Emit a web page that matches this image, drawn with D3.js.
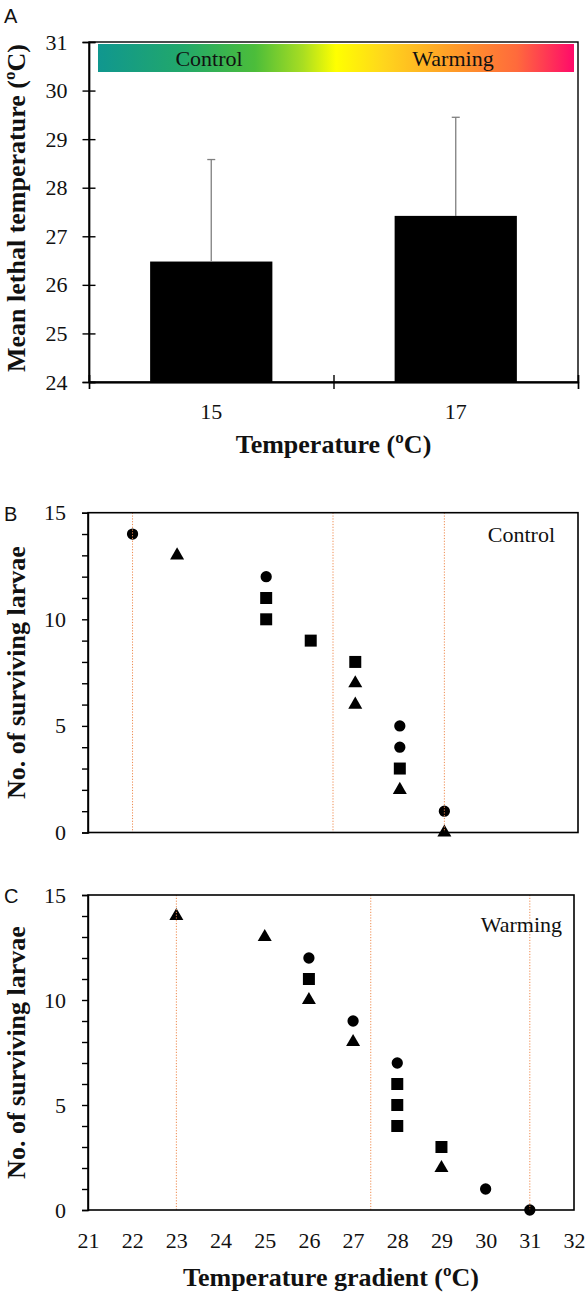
<!DOCTYPE html>
<html><head><meta charset="utf-8">
<script src="https://cdn.jsdelivr.net/npm/d3@7"></script>
<style>
body{margin:0;background:#fff;}
svg{display:block;}
text{font-family:"Liberation Serif","Times New Roman",serif;fill:#111;}
</style></head>
<body>
<svg id="chart" width="588" height="1297"></svg>
<script>
// ---------- data ----------
const categories = ["15", "17"];
const meanLethal = [26.48, 27.42];
const errorTop = [28.58, 29.45];
const yTicksA = [24, 25, 26, 27, 28, 29, 30, 31];

const xTicks = [21, 22, 23, 24, 25, 26, 27, 28, 29, 30, 31, 32];
const yTicksBC = [0, 1, 2, 3, 4, 5, 6, 7, 8, 9, 10, 11, 12, 13, 14, 15];

const controlCircles = [[22, 14], [25, 12], [28, 5], [28, 4], [29, 1]];
const controlSquares = [[25, 11], [25, 10], [26, 9], [27, 8], [28, 3]];
const controlTriangles = [[23, 13], [27, 7], [27, 6], [28, 2], [29, 0]];
const controlLines = [22, 26.5, 29];

const warmingCircles = [[26, 12], [27, 9], [28, 7], [30, 1], [31, 0]];
const warmingSquares = [[26, 11], [28, 6], [28, 5], [28, 4], [29, 3]];
const warmingTriangles = [[23, 14], [25, 13], [26, 10], [27, 8], [29, 2]];
const warmingLines = [23, 27.4, 31];

const gradientStops = [
  [0, "#10978f"], [0.18, "#22a86a"], [0.33, "#4cbd3a"], [0.43, "#a8dd22"],
  [0.5, "#ffff00"], [0.6, "#ffd61c"], [0.75, "#ff9a28"], [0.88, "#ff6a3c"], [1, "#ff0a6a"]
];

const svg = d3.select("#chart");

// ---------- Panel A ----------
const A = {l: 89, r: 578, t: 42, b: 382};
const yA = d3.scaleLinear().domain([24, 31]).range([A.b, A.t]);
const xA = d3.scaleBand().domain(categories).range([A.l, A.r]).paddingInner(0.5).paddingOuter(0.25);
const xAb = d3.scaleLinear().domain([0, 2]).range([A.l, A.r]);

svg.append("text").attr("x", 4).attr("y", 23)
  .style("font-family", "Liberation Sans, Arial, sans-serif").attr("font-size", 20).text("A");

// gradient
const defs = svg.append("defs");
const grad = defs.append("linearGradient").attr("id", "grad").attr("x1", "0").attr("x2", "1").attr("y1", "0").attr("y2", "0");
grad.selectAll("stop").data(gradientStops).join("stop")
  .attr("offset", d => d[0]).attr("stop-color", d => d[1]);

// bars
svg.append("g").selectAll("rect").data(categories).join("rect")
  .attr("x", d => xA(d)).attr("width", xA.bandwidth())
  .attr("y", (d, i) => yA(meanLethal[i])).attr("height", (d, i) => yA(24) - yA(meanLethal[i]))
  .attr("fill", "#000");

// error bars
const eb = svg.append("g").attr("stroke", "#7f7f7f").attr("stroke-width", 1.3);
categories.forEach((c, i) => {
  const cx = xA(c) + xA.bandwidth() / 2;
  eb.append("line").attr("x1", cx).attr("x2", cx).attr("y1", yA(meanLethal[i])).attr("y2", yA(errorTop[i]));
  eb.append("line").attr("x1", cx - 4).attr("x2", cx + 4).attr("y1", yA(errorTop[i])).attr("y2", yA(errorTop[i]));
});

// gradient strip
svg.append("rect").attr("x", 98).attr("y", 44).attr("width", 476).attr("height", 28).attr("fill", "url(#grad)");
svg.append("text").attr("x", 209).attr("y", 66).attr("text-anchor", "middle").attr("font-size", 22).text("Control");
svg.append("text").attr("x", 453).attr("y", 66).attr("text-anchor", "middle").attr("font-size", 22).text("Warming");

// frame
svg.append("rect").attr("x", A.l).attr("y", A.t).attr("width", A.r - A.l).attr("height", A.b - A.t)
  .attr("fill", "none").attr("stroke", "#000").attr("stroke-width", 1.4);

// y axis A
svg.append("g").attr("transform", `translate(${A.l},0)`)
  .call(d3.axisLeft(yA).tickValues(yTicksA).tickSize(6.5).tickPadding(15).tickFormat(d3.format("d")));
svg.append("g").attr("transform", `translate(${A.l},0)`)
  .call(d3.axisRight(yA).tickValues(yTicksA).tickSize(6.5).tickFormat(""));
// x axis A
svg.append("g").attr("transform", `translate(0,${A.b})`)
  .call(d3.axisBottom(xAb).tickValues([0, 1, 2]).tickSize(7).tickFormat(""));
svg.append("g").attr("transform", `translate(0,${A.b})`)
  .call(d3.axisTop(xAb).tickValues([0, 1, 2]).tickSize(7).tickFormat(""));
svg.append("g").attr("transform", `translate(0,${A.b})`)
  .call(d3.axisBottom(xA).tickSize(0).tickPadding(21));

svg.append("text").attr("transform", `translate(25,${(A.t + A.b) / 2 - 4}) rotate(-90)`)
  .attr("text-anchor", "middle").attr("font-size", 26).attr("font-weight", "bold")
  .text("Mean lethal temperature (ºC)");
svg.append("text").attr("x", (A.l + A.r) / 2).attr("y", 453).attr("text-anchor", "middle")
  .attr("font-size", 26).attr("font-weight", "bold").text("Temperature (ºC)");

// ---------- Panels B & C ----------
function scatterPanel(cfg) {
  const x = d3.scaleLinear().domain([21, 32]).range([cfg.l, cfg.r]);
  const y = d3.scaleLinear().domain([0, 15]).range([cfg.b, cfg.t]);
  svg.append("text").attr("x", 4).attr("y", cfg.t + 8)
    .style("font-family", "Liberation Sans, Arial, sans-serif").attr("font-size", 20).text(cfg.label);

  const sym = (type, size) => d3.symbol().type(type).size(size)();
  const g = svg.append("g");
  g.selectAll("path.c").data(cfg.circles).join("path").attr("class", "c")
    .attr("d", sym(d3.symbolCircle, 100)).attr("transform", d => `translate(${x(d[0])},${y(d[1])})`).attr("fill", "#000");
  g.selectAll("path.s").data(cfg.squares).join("path").attr("class", "s")
    .attr("d", sym(d3.symbolSquare, 144)).attr("transform", d => `translate(${x(d[0])},${y(d[1])})`).attr("fill", "#000");
  g.selectAll("path.t").data(cfg.triangles).join("path").attr("class", "t")
    .attr("d", sym(d3.symbolTriangle, 85)).attr("transform", d => `translate(${x(d[0])},${y(d[1])})`).attr("fill", "#000");

  svg.append("g").selectAll("line").data(cfg.lines).join("line")
    .attr("x1", d => x(d)).attr("x2", d => x(d)).attr("y1", cfg.t).attr("y2", cfg.b)
    .attr("stroke", "#ee8a4e").attr("stroke-width", 1).attr("stroke-dasharray", "1.2,1.6");

  svg.append("text").attr("x", cfg.textX).attr("y", cfg.textY).attr("text-anchor", "end")
    .attr("font-size", 22).text(cfg.text);

  svg.append("rect").attr("x", cfg.l).attr("y", cfg.t).attr("width", cfg.r - cfg.l).attr("height", cfg.b - cfg.t)
    .attr("fill", "none").attr("stroke", "#000").attr("stroke-width", 1.6);

  svg.append("g").attr("transform", `translate(${cfg.l},0)`)
    .call(d3.axisLeft(y).tickValues(yTicksBC).tickSize(6).tickPadding(16)
      .tickFormat(d => d % 5 === 0 ? d : ""));

  if (cfg.xLabels) {
    svg.append("g").attr("transform", `translate(0,${cfg.b})`)
      .call(d3.axisBottom(x).tickValues(xTicks).tickSize(0).tickPadding(22).tickFormat(d3.format("d")))
      .call(s => s.select(".domain").remove());
  }

  svg.append("text").attr("transform", `translate(25,${(cfg.t + cfg.b) / 2}) rotate(-90)`)
    .attr("text-anchor", "middle").attr("font-size", 26).attr("font-weight", "bold")
    .text("No. of surviving larvae");
}

scatterPanel({label: "B", l: 88, r: 578, t: 512.7, b: 832.5,
  circles: controlCircles, squares: controlSquares, triangles: controlTriangles,
  lines: controlLines, text: "Control", textX: 555, textY: 542, xLabels: false});
scatterPanel({label: "C", l: 88, r: 574, t: 895, b: 1210,
  circles: warmingCircles, squares: warmingSquares, triangles: warmingTriangles,
  lines: warmingLines, text: "Warming", textX: 562, textY: 932, xLabels: true});

svg.append("text").attr("x", 331).attr("y", 1286).attr("text-anchor", "middle")
  .attr("font-size", 26).attr("font-weight", "bold").text("Temperature gradient (ºC)");

// style axes
svg.selectAll(".tick text").attr("font-size", 22).attr("fill", "#111")
  .style("font-family", "Liberation Serif, Times New Roman, serif");
svg.selectAll(".domain").attr("stroke", "#000").attr("stroke-width", 1.4);
svg.selectAll(".tick line").attr("stroke", "#000").attr("stroke-width", 1.4);
</script>
</body></html>
